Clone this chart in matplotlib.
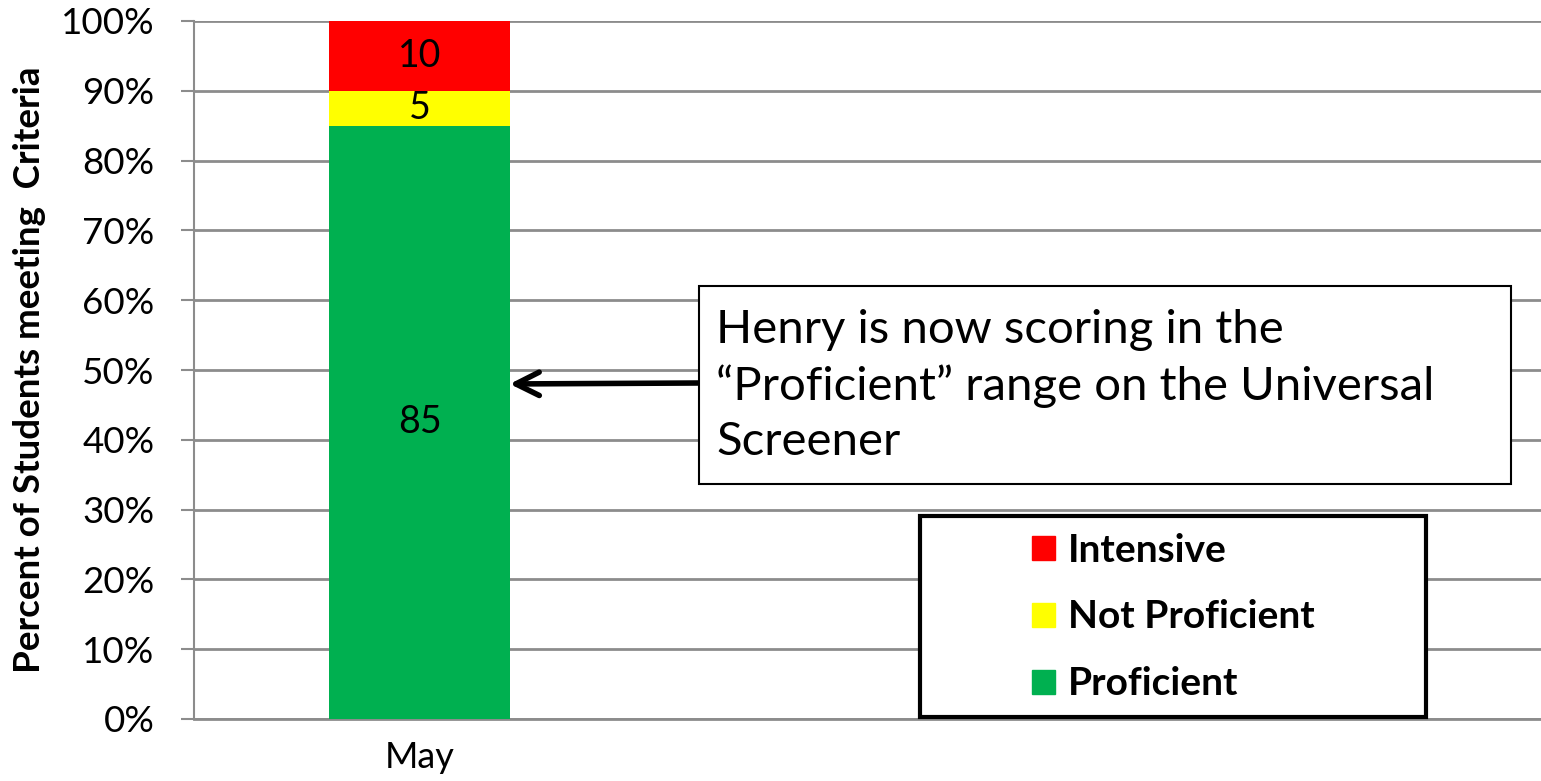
import matplotlib.pyplot as plt
from matplotlib.patches import Rectangle, Patch

### Data
months = ['May', '', '']
proficient = [85, None, None]
not_proficient = [5, None, None]
intensive = [10, None, None]
ytick_labels = ['0%', '10%', '20%', '30%', '40%', '50%', '60%', '70%', '80%', '90%', '100%']
callout_text = 'Henry is now scoring in the\n\u201cProficient\u201d range on the Universal\nScreener'
arrow_target = 48  # percent, where the arrow points on the bar

### Style
plt.rcParams['font.family'] = ['Lato', 'DejaVu Sans']
green, yellow, red = '#00B050', '#FFFF00', '#FF0000'
grid_col = '#8C8C8C'
W, H = 1541, 781

fig = plt.figure(figsize=(W / 100, H / 100), dpi=100)
ax = fig.add_axes([194 / W, (H - 719) / H, (1547 - 194) / W, (719 - 21) / H])

xs = [0]
bar_w = 0.4
p = [proficient[0]]
n = [not_proficient[0]]
i = [intensive[0]]
b1 = ax.bar(xs, p, bar_w, color=green, zorder=3)
b2 = ax.bar(xs, n, bar_w, bottom=p, color=yellow, zorder=3)
b3 = ax.bar(xs, i, bar_w, bottom=[a + b for a, b in zip(p, n)], color=red, zorder=3)
for bars in (b1, b2, b3):
    ax.bar_label(bars, label_type='center', fontsize=27, color='black', zorder=4)

ax.set_xlim(-0.5, 2.5)
ax.set_ylim(0, 100)
ax.set_yticks(range(0, 101, 10))
ax.set_yticklabels(ytick_labels, fontsize=26.5)
ax.set_xticks([0])
ax.set_xticklabels([months[0]], fontsize=26)
ax.tick_params(axis='x', length=0, pad=16)
ax.tick_params(axis='y', length=9.5, width=1.5, color=grid_col, pad=19)
ax.yaxis.grid(True, color=grid_col, linewidth=2, zorder=0)
for s in ('top', 'right'):
    ax.spines[s].set_visible(False)
ax.spines['left'].set_color(grid_col)
ax.spines['left'].set_linewidth(1.5)
ax.spines['bottom'].set_color(grid_col)
ax.spines['bottom'].set_linewidth(2)
ax.set_ylabel('Percent of Students meeting  Criteria', fontsize=26.5, fontweight='bold')
ax.yaxis.set_label_coords((46 - 194) / 1353, (719 - 370) / 698)

# callout box with arrow
fig.patches.append(Rectangle((699 / W, (H - 484) / H), (1511 - 699) / W, (484 - 286) / H,
                             transform=fig.transFigure, facecolor='white', edgecolor='black',
                             linewidth=1.5, zorder=5))
fig.text(716 / W, (H - 386) / H, callout_text, fontsize=34, va='center', ha='left',
         linespacing=1.38, zorder=6)
ax.annotate('', xy=(xs[0] + bar_w / 2, arrow_target), xycoords='data',
            xytext=(699 / W, (H - 383) / H), textcoords='figure fraction',
            arrowprops=dict(arrowstyle='->', lw=4, color='black', mutation_scale=42,
                            shrinkA=0, shrinkB=0), zorder=6)

# legend box
fig.patches.append(Rectangle((920 / W, (H - 717) / H), (1426 - 920) / W, (717 - 516) / H,
                             transform=fig.transFigure, facecolor='white', edgecolor='black',
                             linewidth=3, zorder=5))
handles = [Patch(color=red, label='Intensive'),
           Patch(color=yellow, label='Not Proficient'),
           Patch(color=green, label='Proficient')]
leg = fig.legend(handles=handles, loc='center left', bbox_to_anchor=(1032 / W, (H - 617) / H),
                 frameon=False, prop={'weight': 'bold', 'size': 28}, handlelength=0.6,
                 handleheight=0.57, handletextpad=0.33, labelspacing=0.82, borderpad=0,
                 borderaxespad=0)
leg.set_zorder(7)

fig.savefig('out.png', dpi=100)
